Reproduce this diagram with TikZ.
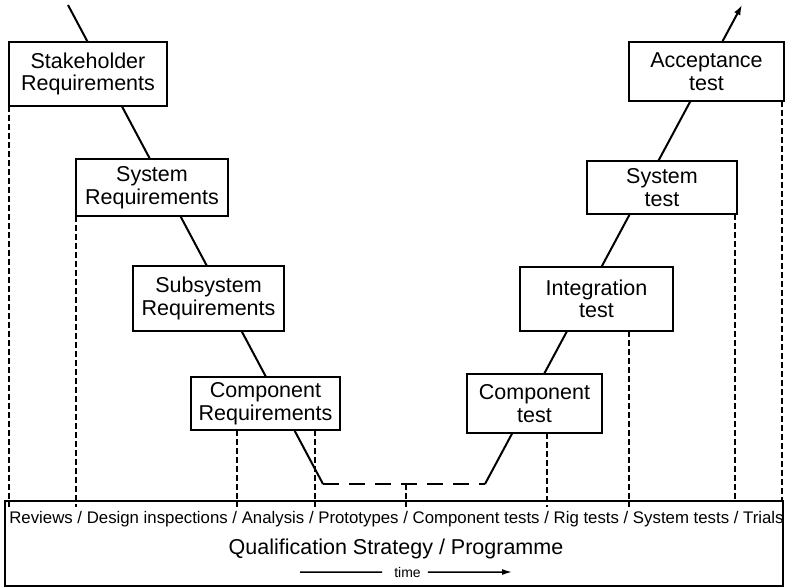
\documentclass[tikz,border=0pt]{standalone}
\usepackage{fontspec}
\setmainfont{Liberation Sans}
\usetikzlibrary{arrows.meta}
\begin{document}
\begin{tikzpicture}[x=1pt, y=-1pt,
  vbox/.style={draw, fill=white, line width=1.5pt, align=center, inner sep=0pt, outer sep=0pt, font=\fontsize{21.5}{22.5}\selectfont},
  vline/.style={line width=2pt},
  guide/.style={line width=1.3pt, dash pattern=on 6pt off 3pt}]
\useasboundingbox (0,0) rectangle (785,587);

% linea a V (sotto le caselle)
\coordinate (vtop) at (68,5);
\coordinate (vleft) at (323,484);
\coordinate (vright) at (485,484);
\coordinate (vtip) at (742,5);
\coordinate (vmid) at (406,484);
\draw[vline] (vtop) -- (vleft);
\draw[vline, dash pattern=on 16pt off 10pt] (vleft) -- (vright);
\draw[vline, -{Latex[length=10pt,width=7pt]}] (vright) -- (vtip);

% requisiti
\node[vbox, minimum width=158pt, minimum height=64pt] (stake) at (88,74) {Stakeholder\\Requirements};
\node[vbox, minimum width=152pt, minimum height=57pt] (sysreq) at (152,187.5) {System\\Requirements};
\node[vbox, minimum width=151pt, minimum height=65pt] (subreq) at (208.5,298.5) {Subsystem\\Requirements};
\node[vbox, minimum width=149pt, minimum height=53pt] (compreq) at (265.5,403.5) {Component\\Requirements};

% test
\node[vbox, minimum width=135pt, minimum height=59pt] (comptest) at (534.5,403.5) {Component\\test};
\node[vbox, minimum width=153pt, minimum height=64pt] (integ) at (596.5,299) {Integration\\test};
\node[vbox, minimum width=150pt, minimum height=53pt] (systest) at (662,187.5) {System\\test};
\node[vbox, minimum width=155pt, minimum height=59pt] (accept) at (706.5,71.5) {Acceptance\\test};

% strategia di qualifica
\node[draw, line width=1.5pt, inner sep=0pt, outer sep=0pt, minimum width=778pt, minimum height=85pt] (qual) at (394,543.5) {};
\node[anchor=base, inner sep=0pt, font=\fontsize{16.8}{18}\selectfont] (tests) at (396.5,523) {Reviews / Design inspections / Analysis / Prototypes / Component tests / Rig tests / System tests / Trials};
\node[anchor=base, inner sep=0pt, font=\fontsize{21.5}{23}\selectfont] (title) at (396,554) {Qualification Strategy / Programme};
\node[anchor=base, inner sep=0pt, font=\fontsize{14}{16}\selectfont] (time) at (407.5,577) {time};
\coordinate (tl) at (300,572);
\coordinate (tr) at (512,572);
\draw[line width=1.5pt] (tl) -- ([xshift=-12pt]time.west);
\draw[line width=1.5pt, -{Latex[length=10pt,width=6pt]}] ([xshift=7pt]time.east) -- (tr);

% linee tratteggiate verso le barre
\coordinate (slash) at (0,507);
\coordinate (edge) at (0,501);
\draw[guide] (stake.south west) -- (stake.south west |- slash);
\draw[guide] (sysreq.south west) -- (sysreq.south west |- slash);
\draw[guide] ([xshift=-28.5pt]compreq.south) -- ([xshift=-28.5pt]compreq.south |- slash);
\draw[guide] ([xshift=49.5pt]compreq.south) -- ([xshift=49.5pt]compreq.south |- slash);
\draw[guide] (vmid) -- (vmid |- slash);
\draw[guide] ([xshift=12.5pt]comptest.south) -- ([xshift=12.5pt]comptest.south |- slash);
\draw[guide] ([xshift=32.5pt]integ.south) -- ([xshift=32.5pt]integ.south |- slash);
\draw[guide] ([xshift=-2pt]systest.south east) -- ([xshift=-2pt]systest.south east |- edge);
\draw[guide] ([xshift=-2pt]accept.south east) -- ([xshift=-2pt]accept.south east |- edge);

\end{tikzpicture}
\end{document}
